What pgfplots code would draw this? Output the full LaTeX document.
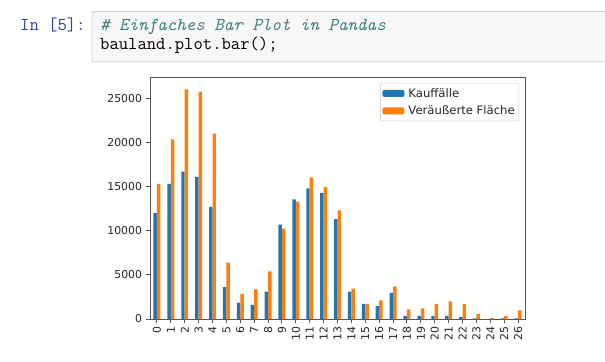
\documentclass[border=0pt]{standalone}
\usepackage{fontspec}
\setmainfont{DejaVu Sans}
\usepackage{pgfplots}
\pgfplotsset{compat=1.18}
\usepackage{pgfplotstable}

\definecolor{mplblue}{HTML}{1F77B4}
\definecolor{mplorange}{HTML}{FF7F0E}
\definecolor{promptblue}{HTML}{303F9F}
\definecolor{commentcol}{HTML}{408080}
\definecolor{cellbg}{HTML}{F7F7F7}
\definecolor{cellborder}{HTML}{CFCFCF}
\definecolor{spine}{HTML}{555555}

\pgfplotstableread{
x kauf flaeche
0 12000 15300
1 15300 20350
2 16700 26000
3 16100 25750
4 12700 21000
5 3600 6400
6 1850 2850
7 1600 3350
8 3100 5400
9 10700 10250
10 13550 13300
11 14800 16050
12 14300 14950
13 11300 12300
14 3100 3450
15 1700 1700
16 1450 2100
17 2950 3700
18 340 1100
19 340 1200
20 340 1700
21 350 2000
22 230 1700
23 80 560
24 20 110
25 80 340
26 80 980
}\datatable

\begin{document}
\begin{tikzpicture}
\fill[white] (0bp,0bp) rectangle (605bp,362bp);
\draw[cellborder, fill=cellbg, rounded corners=2bp, line width=0.8bp] (92bp,300bp) rectangle (612bp,350.5bp);
\node[anchor=base west, inner sep=0pt, font=\fontsize{18.2}{21}\ttfamily, text=promptblue] at (20bp,331bp) {In [5]:};
\node[anchor=base west, inner sep=0pt, font=\fontsize{18.2}{21}\ttfamily\itshape, text=commentcol] at (100bp,331bp) {\# Einfaches Bar Plot in Pandas};
\node[anchor=base west, inner sep=0pt, font=\fontsize{18.2}{21}\ttfamily, text=black] at (100bp,312bp) {bauland.plot.bar();};

\begin{axis}[
  at={(150bp,43bp)}, anchor=south west,
  width=375bp, height=241bp, scale only axis,
  xmin=-0.5, xmax=26.5, ymin=0, ymax=27300,
  ybar, bar width=0.25,
  xtick={0,...,26}, ytick={0,5000,10000,15000,20000,25000},
  tick align=outside, tick pos=left, major tick length=4.5bp,
  axis line style={spine, line width=1bp},
  every tick/.style={spine, line width=0.9bp},
  tick label style={font=\fontsize{10.9}{13}\selectfont, text=black!85},
  xticklabel style={rotate=90, anchor=east},
  /pgf/number format/assume math mode=true,
  /pgf/number format/1000 sep={},
  scaled y ticks=false,
  legend style={at={(0.984,0.979)}, anchor=north east, draw=black!20, rounded corners=2bp,
    font=\fontsize{11.7}{13}\selectfont, inner xsep=2bp, inner ysep=3bp, row sep=3bp, text=black!85},
  legend cell align=left,
  legend image code/.code={\fill[#1] (0bp,-3.5bp) rectangle (22bp,3.5bp); \path (0bp,0bp) -- (24bp,0bp);},
]
\addplot[fill=mplblue, draw=none, bar shift=-0.125] table[x=x,y=kauf]{\datatable};
\addplot[fill=mplorange, draw=none, bar shift=0.125] table[x=x,y=flaeche]{\datatable};
\legend{Kauffälle, Veräußerte Fläche}
\end{axis}
\pgfresetboundingbox
\useasboundingbox (0bp,0bp) rectangle (605bp,362bp);
\end{tikzpicture}
\end{document}
